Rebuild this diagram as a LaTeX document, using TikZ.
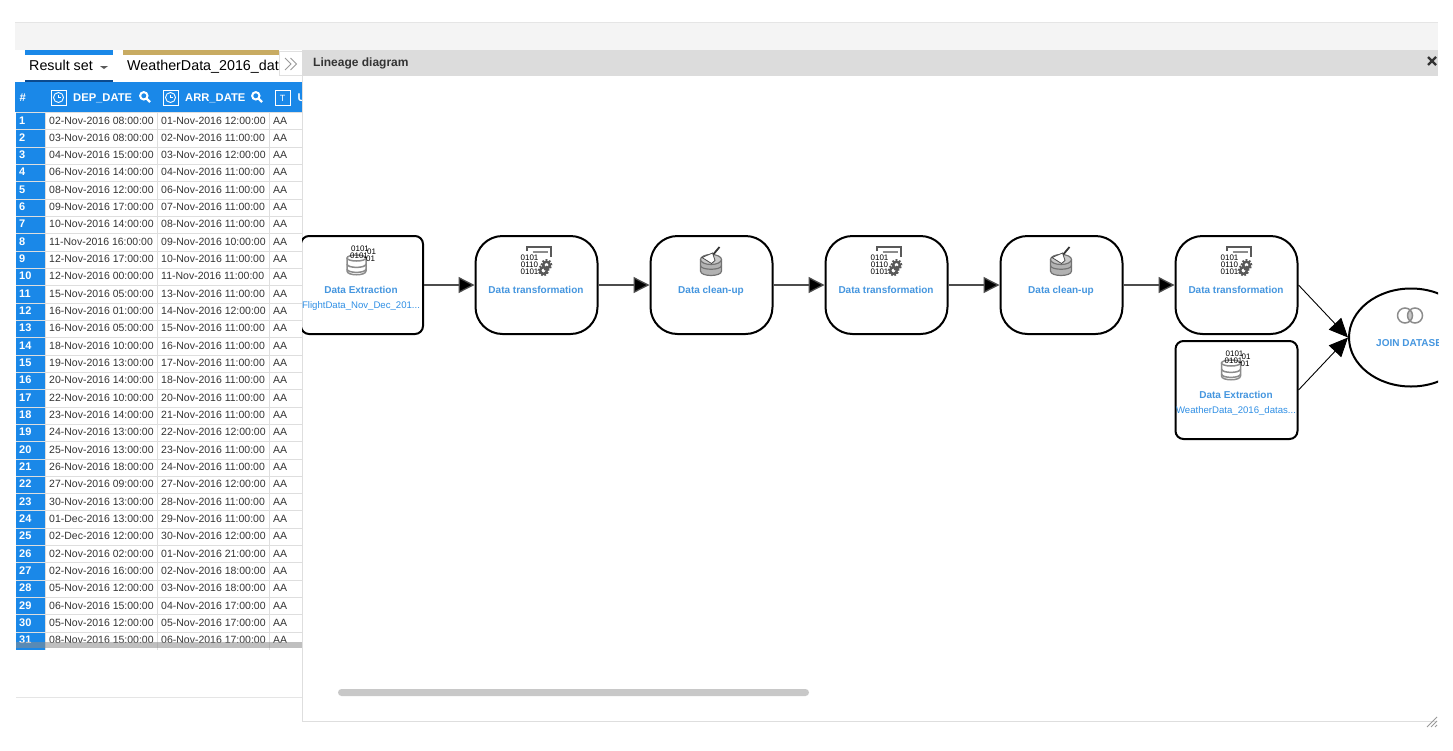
\documentclass[tikz,border=0pt]{standalone}
\usepackage{fontspec}
\setmainfont{Liberation Sans}
\usetikzlibrary{arrows.meta,shapes.geometric}
\definecolor{hdrblue}{HTML}{1A88E8}
\definecolor{navy}{HTML}{0B4A8F}
\definecolor{tan}{HTML}{C8AB62}
\definecolor{barg}{HTML}{F4F4F4}
\definecolor{hdrg}{HTML}{DCDCDC}
\definecolor{gridg}{HTML}{DEDEDE}
\definecolor{scrollg}{HTML}{C8C8C8}
\definecolor{txt}{HTML}{333333}
\definecolor{lbl}{HTML}{4596DF}
\definecolor{lblsub}{HTML}{2F8FE5}
\definecolor{icong}{HTML}{8C8C8C}
\newcommand{\fsz}[1]{\fontsize{#1}{#1}\selectfont}
\tikzset{
  x=1pt,y=-1pt,
  rowtext/.style={anchor=base west,inner sep=0pt,text=txt,font=\fsz{10.5}},
  numtext/.style={anchor=base west,inner sep=0pt,text=white,font=\fsz{11}\bfseries},
  headtext/.style={anchor=base west,inner sep=0pt,text=white,font=\fsz{11.2}\bfseries},
  tabtext/.style={anchor=base west,inner sep=0pt,text=black,font=\fsz{14.3}},
  stepsquare/.style={draw=black,line width=2pt,rounded corners=8pt,minimum width=122pt,minimum height=98pt,inner sep=0pt,outer sep=1pt,fill=white},
  stepround/.style={stepsquare,rounded corners=27pt},
  joinshape/.style={draw=black,line width=2pt,ellipse,minimum width=124pt,minimum height=98pt,inner sep=0pt,outer sep=1pt,fill=white},
  steplabel/.style={anchor=base,inner sep=0pt,text=lbl,font=\fsz{10}\bfseries},
  sublabel/.style={anchor=base,inner sep=0pt,text=lblsub,font=\fsz{9.6}},
  bintext/.style={inner sep=0pt,text=black,font=\fsz{8}},
  link/.style={draw=black!70,line width=1.3pt,-{Triangle[length=16pt,width=16pt,fill=black]}},
  slant/.style={draw=black,line width=.9pt,-{Triangle[length=19pt,width=17pt,fill=black]}},
  clockicon/.pic={
    \draw[white,line width=.8pt] (-7.5,-7.5) rectangle (7.5,7.5);
    \draw[white,line width=.9pt] (0,0) circle[radius=5pt];
    \draw[white,line width=.8pt] (0,-3) -- (0,0) -- (2.5,0);
  },
  lensicon/.pic={
    \draw[white,line width=2pt] (-1.2,-1.2) circle[radius=3.7pt];
    \draw[white,line width=2.4pt] (1.6,1.6) -- (5,5);
  },
  gearicon/.pic={
    \draw[black!65,line width=1.8pt,dash pattern=on 1.8pt off 1.6pt] (0,0) circle[radius=5pt];
    \draw[black!65,line width=2.4pt] (0,0) circle[radius=3.3pt];
  },
  exticon/.pic={
    \draw[icong,line width=1.5pt,fill=white] (-15,-27) -- (-15,-14) .. controls (-15,-9) and (4,-9) .. (4,-14) -- (4,-27);
    \draw[icong,line width=1.5pt] (-15,-21) .. controls (-15,-16.5) and (4,-16.5) .. (4,-21);
    \draw[icong,line width=1.5pt] (-15,-16) .. controls (-15,-11.5) and (4,-11.5) .. (4,-16);
    \draw[icong,line width=1.5pt,fill=white] (-5.5,-27) ellipse[x radius=9.5pt,y radius=3pt];
    \node[bintext] (-a) at (-2,-36) {0101};
    \node[bintext] (-b) at (-3,-29) {0101};
    \node[bintext] (-c) at (9.5,-33) {01};
    \node[bintext] (-d) at (8.5,-26) {01};
  },
  trficon/.pic={
    \draw[black!65,line width=2pt] (-9.5,-34.5) -- (-9.5,-38) -- (14.5,-38) -- (14.5,-28);
    \draw[black!45,line width=1.8pt] (-4,-33) -- (11,-33);
    \node[bintext] (-a) at (-7,-27) {0101};
    \node[bintext] (-b) at (-7,-20) {0110};
    \node[bintext] (-c) at (-7,-13) {0101};
    \pic at (10,-20) {gearicon};
    \pic at (7,-14.5) {gearicon};
  },
  cleanicon/.pic={
    \draw[black!55,line width=1.2pt,fill=black!30] (-11,-24.5) -- (-11,-14) .. controls (-11,-8) and (10,-8) .. (10,-14) -- (10,-24.5) -- cycle;
    \draw[black!55,line width=1.2pt] (-11,-19.5) .. controls (-11,-14.5) and (10,-14.5) .. (10,-19.5);
    \draw[black!55,line width=1.2pt,fill=black!22] (-.5,-25.5) ellipse[x radius=10.5pt,y radius=5pt];
    \draw[black!80,line width=1.8pt] (0.5,-29) -- (8,-38);
    \draw[black!70,line width=.8pt,fill=white] (-9.5,-27.5) -- (1,-32) -- (3.5,-24.5) -- (0,-21.5) -- cycle;
  },
  joinicon/.pic={
    \begin{scope}
      \clip (-5,0) circle[radius=7.5pt];
      \fill[black!22] (5,0) circle[radius=7.5pt];
    \end{scope}
    \draw[icong,line width=1.5pt] (-5,0) circle[radius=7.5pt];
    \draw[icong,line width=1.5pt] (5,0) circle[radius=7.5pt];
  }
}
\begin{document}
\begin{tikzpicture}
\useasboundingbox (0,0) rectangle (1453,750);
\fill[white] (0,0) rectangle (1453,750);
% top band
\fill[barg] (15,23) rectangle (1438,50);
\draw[black!10,line width=.8pt] (15,22.5) -- (1438,22.5);
% tabs
\fill[hdrblue] (25,50) rectangle (113,55);
\fill[navy] (25,80) rectangle (113,82);
\fill[tan] (123,50) rectangle (279,55);
\node[tabtext] (tabone) at (29,70) {Result set};
\fill[black!65] (100,66) -- (108,66) -- (104,69) -- cycle;
\begin{scope}
  \clip (120,50) rectangle (279,82);
  \node[tabtext] (tabtwo) at (127,70) {WeatherData\_2016\_dataset};
\end{scope}
% table
\begin{scope}
  \clip (15,82) rectangle (302,650);
  \fill[hdrblue] (15,82) rectangle (302,112);
  \fill[hdrblue] (16,112) rectangle (45,650);
  \foreach \n/\a/\b in {1/02-Nov-2016 08:00:00/01-Nov-2016 12:00:00,2/03-Nov-2016 08:00:00/02-Nov-2016 11:00:00,3/04-Nov-2016 15:00:00/03-Nov-2016 12:00:00,4/06-Nov-2016 14:00:00/04-Nov-2016 11:00:00,5/08-Nov-2016 12:00:00/06-Nov-2016 11:00:00,6/09-Nov-2016 17:00:00/07-Nov-2016 11:00:00,7/10-Nov-2016 14:00:00/08-Nov-2016 11:00:00,8/11-Nov-2016 16:00:00/09-Nov-2016 10:00:00,9/12-Nov-2016 17:00:00/10-Nov-2016 11:00:00,10/12-Nov-2016 00:00:00/11-Nov-2016 11:00:00,11/15-Nov-2016 05:00:00/13-Nov-2016 11:00:00,12/16-Nov-2016 01:00:00/14-Nov-2016 12:00:00,13/16-Nov-2016 05:00:00/15-Nov-2016 11:00:00,14/18-Nov-2016 10:00:00/16-Nov-2016 11:00:00,15/19-Nov-2016 13:00:00/17-Nov-2016 11:00:00,16/20-Nov-2016 14:00:00/18-Nov-2016 11:00:00,17/22-Nov-2016 10:00:00/20-Nov-2016 11:00:00,18/23-Nov-2016 14:00:00/21-Nov-2016 11:00:00,19/24-Nov-2016 13:00:00/22-Nov-2016 12:00:00,20/25-Nov-2016 13:00:00/23-Nov-2016 11:00:00,21/26-Nov-2016 18:00:00/24-Nov-2016 11:00:00,22/27-Nov-2016 09:00:00/27-Nov-2016 12:00:00,23/30-Nov-2016 13:00:00/28-Nov-2016 11:00:00,24/01-Dec-2016 13:00:00/29-Nov-2016 11:00:00,25/02-Dec-2016 12:00:00/30-Nov-2016 12:00:00,26/02-Nov-2016 02:00:00/01-Nov-2016 21:00:00,27/02-Nov-2016 16:00:00/02-Nov-2016 18:00:00,28/05-Nov-2016 12:00:00/03-Nov-2016 18:00:00,29/06-Nov-2016 15:00:00/04-Nov-2016 17:00:00,30/05-Nov-2016 12:00:00/05-Nov-2016 17:00:00,31/08-Nov-2016 15:00:00/06-Nov-2016 17:00:00}{
    \pgfmathsetmacro{\ytop}{112.3+(\n-1)*17.33}
    \pgfmathsetmacro{\ybase}{\ytop+11.7}
    \draw[gridg,line width=.8pt] (16,\ytop) -- (302,\ytop);
    \node[numtext] (num\n) at (19,\ybase) {\n};
    \node[rowtext] (dep\n) at (49,\ybase) {\a};
    \node[rowtext] (arr\n) at (161,\ybase) {\b};
    \node[rowtext] (car\n) at (273,\ybase) {AA};
  }
  \draw[gridg,line width=.8pt] (45,112) -- (45,650);
  \draw[gridg,line width=.8pt] (157,112) -- (157,650);
  \draw[gridg,line width=.8pt] (269,112) -- (269,650);
  \node[headtext] (hnum) at (19.5,101) {\#};
  \pic at (58.5,97.5) {clockicon};
  \node[headtext] (hdep) at (73,101) {DEP\_DATE};
  \pic at (145,97) {lensicon};
  \pic at (170.5,97.5) {clockicon};
  \node[headtext] (harr) at (185,101) {ARR\_DATE};
  \pic at (257,97) {lensicon};
  \draw[white,line width=.8pt] (275,90) rectangle (290,105);
  \node[inner sep=0pt,text=white,font=\fsz{9}] (htype) at (282.5,98) {T};
  \node[headtext] (hun) at (297.5,101) {U};
  \fill[black!45,opacity=.55] (16,642) rectangle (302,648);
\end{scope}
\draw[black!10,line width=.8pt] (16,697.5) -- (302,697.5);
% overflow chevrons
\draw[black!12,fill=white,line width=.8pt] (279,51) rectangle (302,75.5);
\draw[black!40,line width=1pt] (285,58) -- (291,64) -- (285,70);
\draw[black!40,line width=1pt] (290.5,58) -- (296.5,64) -- (290.5,70);
% panel
\fill[white] (302.5,76) rectangle (1438,721);
\fill[hdrg] (302,50) rectangle (1438,76);
\draw[gridg,line width=1pt] (302.5,76) -- (302.5,721.5) -- (1437,721.5);
\node[anchor=base west,inner sep=0pt,text=txt,font=\fsz{12}\bfseries] (title) at (313,66.5) {Lineage diagram};
\draw[txt,line width=2.4pt] (1428,57) -- (1436,65);
\draw[txt,line width=2.4pt] (1436,57) -- (1428,65);
\fill[scrollg,rounded corners=3.5pt] (338,689) rectangle (809,696);
\foreach \k in {0,4,8}{
  \draw[black!40,line width=.8pt] (1427+\k,727) -- (1437,717+\k);
}
% flow
\begin{scope}
  \clip (302,76) rectangle (1438,722);
  \node[stepsquare] (ext) at (362,285) {};
  \node[stepround] (trone) at (536.5,285) {};
  \node[stepround] (clone) at (711.5,285) {};
  \node[stepround] (trtwo) at (886.5,285) {};
  \node[stepround] (cltwo) at (1061.5,285) {};
  \node[stepround] (trthree) at (1236.5,285) {};
  \node[stepsquare] (extw) at (1236.5,390) {};
  \node[joinshape] (join) at (1411,337.5) {};
  \draw[link] (ext.east) -- (trone.west);
  \draw[link] (trone.east) -- (clone.west);
  \draw[link] (clone.east) -- (trtwo.west);
  \draw[link] (trtwo.east) -- (cltwo.west);
  \draw[link] (cltwo.east) -- (trthree.west);
  \draw[slant] (trthree.east) -- (join.west);
  \draw[slant] (extw.east) -- (join.west);
  \pic (ia) at (362,285) {exticon};
  \pic (ib) at (536.5,285) {trficon};
  \pic (ic) at (711.5,285) {cleanicon};
  \pic (id) at (886.5,285) {trficon};
  \pic (ie) at (1061.5,285) {cleanicon};
  \pic (if) at (1236.5,285) {trficon};
  \pic (ig) at (1236.5,390) {exticon};
  \pic at (1410,315.5) {joinicon};
  \node[steplabel] (la) at (361,293.5) {Data Extraction};
  \node[sublabel] (lasub) at (361,308) {FlightData\_Nov\_Dec\_201...};
  \node[steplabel] (lb) at (536,293.5) {Data transformation};
  \node[steplabel] (lc) at (711,293.5) {Data clean-up};
  \node[steplabel] (ld) at (886,293.5) {Data transformation};
  \node[steplabel] (le) at (1061,293.5) {Data clean-up};
  \node[steplabel] (lf) at (1236,293.5) {Data transformation};
  \node[steplabel] (lg) at (1236,398.5) {Data Extraction};
  \node[sublabel] (lgsub) at (1236,413) {WeatherData\_2016\_datas...};
  \node[steplabel,anchor=base west] (lh) at (1376,346) {JOIN DATASET};
\end{scope}
\end{tikzpicture}
\end{document}
